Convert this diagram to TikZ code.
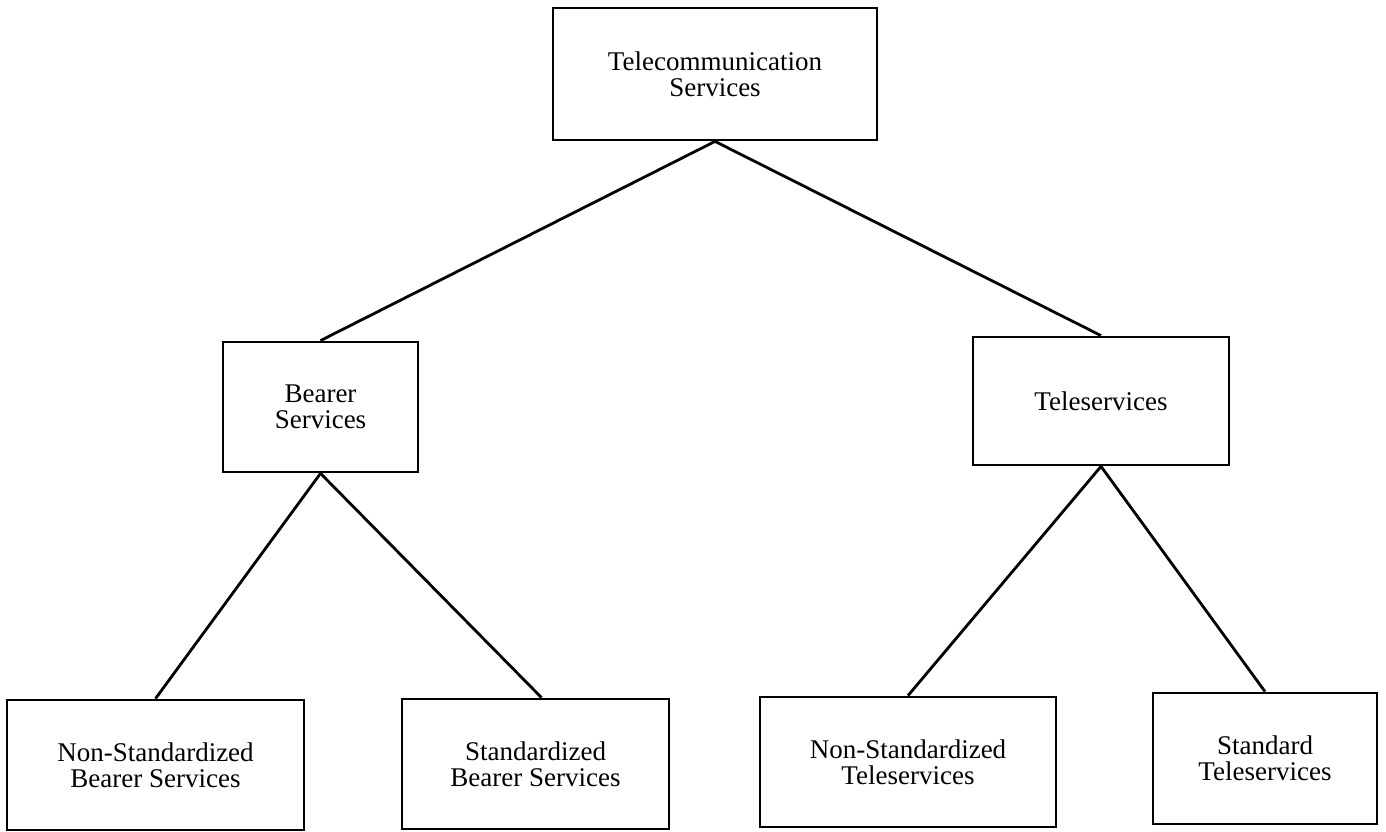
\documentclass[tikz,border=0pt]{standalone}
\usepackage{fontspec}
\setmainfont{Liberation Serif}
\begin{document}
\begin{tikzpicture}[x=1pt,y=-1pt,
  svcbox/.style={draw, line width=2.8pt, align=center, inner sep=0pt,
    font=\fontsize{27}{26}\selectfont},
  link/.style={line width=2.8pt}]
\useasboundingbox (0,0) rectangle (1386,832);
% service hierarchy boxes
\node[svcbox, minimum width=324pt, minimum height=132pt] (tel) at (715,74) {Telecommunication\\Services};
\node[svcbox, minimum width=195pt, minimum height=130pt] (bearer) at (320.5,407) {Bearer\\Services};
\node[svcbox, minimum width=256pt, minimum height=128pt] (tele) at (1101,401) {Teleservices};
\node[svcbox, minimum width=297pt, minimum height=130pt] (nsb) at (155.5,765) {Non-Standardized\\Bearer Services};
\node[svcbox, minimum width=267pt, minimum height=130pt] (sb) at (535.5,764) {Standardized\\Bearer Services};
\node[svcbox, minimum width=296pt, minimum height=130pt] (nst) at (908,762) {Non-Standardized\\Teleservices};
\node[svcbox, minimum width=224pt, minimum height=131pt] (st) at (1265,758.5) {Standard\\Teleservices};
% tree connectors
\draw[link] (tel.south) -- (bearer.north);
\draw[link] (tel.south) -- (tele.north);
\draw[link] (bearer.south) -- (nsb.north);
\draw[link] (bearer.south) -- ([xshift=6pt]sb.north);
\draw[link] (tele.south) -- (nst.north);
\draw[link] (tele.south) -- (st.north);
\end{tikzpicture}
\end{document}
